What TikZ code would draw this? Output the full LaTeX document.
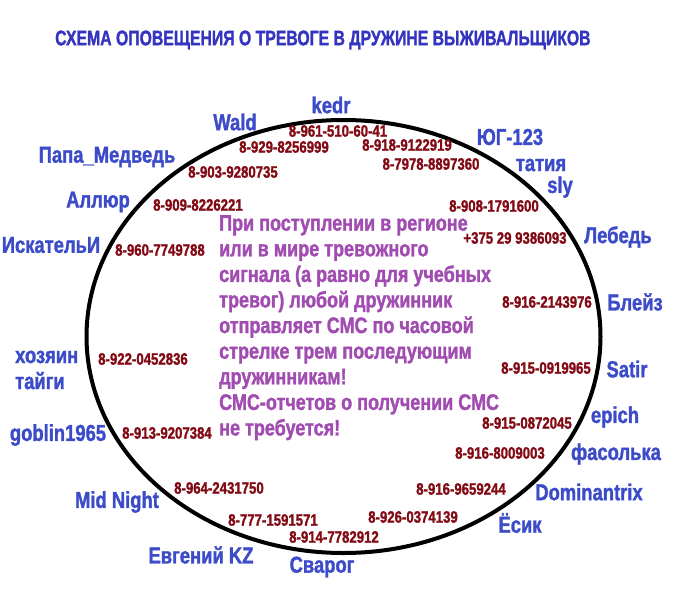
\documentclass[tikz,border=0pt]{standalone}
\usepackage{fontspec}
\newfontfamily\heavy{Liberation Sans Bold}[FakeStretch=0.8, FakeBold=1.4]
\definecolor{nickblue}{RGB}{60,76,200}
\definecolor{titleblue}{RGB}{52,52,190}
\definecolor{phonered}{RGB}{130,10,20}
\definecolor{notepurple}{RGB}{160,76,176}
\tikzset{
  nick/.style={text=nickblue, font=\heavy\fontsize{23}{26}\selectfont, inner sep=0pt},
  phone/.style={text=phonered, font=\heavy\fontsize{16.5}{18}\selectfont, inner sep=0pt},
  note/.style={text=notepurple, font=\heavy\fontsize{22.5}{25.6}\selectfont, align=left, inner sep=0pt},
}
\begin{document}
\begin{tikzpicture}[x=1pt,y=1pt]
\useasboundingbox (0,0) rectangle (699,-600);
\node [text=titleblue, font=\heavy\fontsize{21}{24}\selectfont, inner sep=0pt, anchor=west] (title) at (55,-40)
  {\scalebox{0.94}[1]{СХЕМА ОПОВЕЩЕНИЯ О ТРЕВОГЕ В ДРУЖИНЕ ВЫЖИВАЛЬЩИКОВ}};
\draw [line width=4pt] (343.5,-336.5) ellipse [x radius=257, y radius=216.5];
% names
\node [nick] (kedr) at (331,-105) {kedr};
\node [nick] (wald) at (235,-122) {Wald};
\node [nick] (papa) at (107,-157) {Папа\_Медведь};
\node [nick] (allur) at (98,-202) {Аллюр};
\node [nick] (iskat) at (51,-245) {ИскательИ};
\node [nick, align=left, anchor=west] (hoz) at (15,-370) {хозяин\\тайги};
\node [nick] (goblin) at (58,-435) {goblin1965};
\node [nick] (mid) at (117,-502) {Mid Night};
\node [nick] (evg) at (201,-555) {Евгений KZ};
\node [nick] (svarog) at (322,-567) {Сварог};
\node [nick] (esik) at (520,-523) {Ёсик};
\node [nick] (domin) at (589,-492) {Dominantrix};
\node [nick] (fasol) at (616,-454) {фасолька};
\node [nick] (epich) at (615,-417) {epich};
\node [nick] (satir) at (627,-369) {Satir};
\node [nick] (bleiz) at (635,-302) {Блейз};
\node [nick] (lebed) at (618,-237) {Лебедь};
\node [nick] (sly) at (560,-187) {sly};
\node [nick] (tatia) at (541,-165) {татия};
\node [nick] (yug) at (510,-137) {ЮГ-123};
% phones
\node [phone] (pkedr) at (338,-131) {8-961-510-60-41};
\node [phone] (pwald) at (284,-147) {8-929-8256999};
\node [phone] (ppapa) at (233,-172) {8-903-9280735};
\node [phone] (pallur) at (198,-205) {8-909-8226221};
\node [phone] (piskat) at (160,-250) {8-960-7749788};
\node [phone] (phoz) at (143,-359) {8-922-0452836};
\node [phone] (pgoblin) at (167,-433) {8-913-9207384};
\node [phone] (pmid) at (219,-488) {8-964-2431750};
\node [phone] (pevg) at (273,-520) {8-777-1591571};
\node [phone] (psvarog) at (334,-537) {8-914-7782912};
\node [phone] (pesik) at (413,-517) {8-926-0374139};
\node [phone] (pdomin) at (461,-489) {8-916-9659244};
\node [phone] (pfasol) at (500,-453) {8-916-8009003};
\node [phone] (pepich) at (527,-423) {8-915-0872045};
\node [phone] (psatir) at (546,-368) {8-915-0919965};
\node [phone] (pbleiz) at (547,-302) {8-916-2143976};
\node [phone] (plebed) at (515,-238) {+375 29 9386093};
\node [phone] (psly) at (494,-206) {8-908-1791600};
\node [phone] (ptatia) at (431,-164) {8-7978-8897360};
\node [phone] (pyug) at (407,-145) {8-918-9122919};
% note
\node [note, anchor=north west] (rule) at (219,-215) {При поступлении в регионе\\
или в мире тревожного\\
сигнала (а равно для учебных\\
тревог) любой дружинник\\
отправляет СМС по часовой\\
стрелке трем последующим\\
дружинникам!\\
СМС-отчетов о получении СМС\\
не требуется!};
\end{tikzpicture}
\end{document}
